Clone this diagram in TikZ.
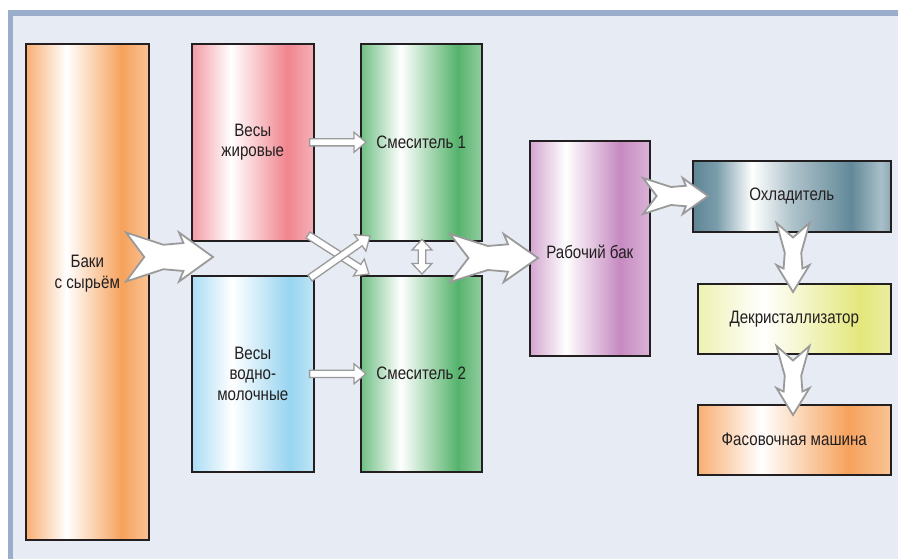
\documentclass[tikz,border=0pt]{standalone}
\usepackage{fontspec}
\setmainfont{Liberation Sans}[FakeStretch=0.84]
\usetikzlibrary{shadows}

\definecolor{bgc}{HTML}{E7EBF4}
\definecolor{frm}{HTML}{9AADCB}
\definecolor{bline}{HTML}{231F20}
\definecolor{txt}{HTML}{231F20}
\definecolor{agrey}{HTML}{9A9A9A}
% orange
\definecolor{oL}{HTML}{F8AE72}\definecolor{oD}{HTML}{F6A25C}\definecolor{oR}{HTML}{F9C395}
% pink
\definecolor{pL}{HTML}{F29AA4}\definecolor{pD}{HTML}{F0858F}\definecolor{pR}{HTML}{F5B0B7}
% blue
\definecolor{bL}{HTML}{A9DCF4}\definecolor{bD}{HTML}{98D4F0}\definecolor{bR}{HTML}{BEE5F7}
% green
\definecolor{gL}{HTML}{6FBF84}\definecolor{gD}{HTML}{55B36C}\definecolor{gR}{HTML}{92CDA0}
% purple
\definecolor{vL}{HTML}{D3A5CF}\definecolor{vD}{HTML}{C68AC1}\definecolor{vR}{HTML}{DAB3D6}
% teal
\definecolor{tL}{HTML}{5E8595}\definecolor{tA}{HTML}{7A9DAB}\definecolor{tM}{HTML}{AFC3CB}\definecolor{tD}{HTML}{628999}\definecolor{tB}{HTML}{A9BFC8}\definecolor{tR}{HTML}{8EA9B4}
% yellow
\definecolor{yL}{HTML}{EEF1B2}\definecolor{yD}{HTML}{E3E77B}\definecolor{yR}{HTML}{EBEDA0}

\pgfdeclarehorizontalshading{shOrange}{100bp}{color(0bp)=(oL); color(25bp)=(oL); color(41.5bp)=(white); color(64bp)=(oD); color(75bp)=(oR); color(100bp)=(oR)}
\pgfdeclarehorizontalshading{shPink}{100bp}{color(0bp)=(pL); color(25bp)=(pL); color(41bp)=(white); color(64bp)=(pD); color(75bp)=(pR); color(100bp)=(pR)}
\pgfdeclarehorizontalshading{shBlue}{100bp}{color(0bp)=(bL); color(25bp)=(bL); color(41.5bp)=(white); color(65bp)=(bD); color(75bp)=(bR); color(100bp)=(bR)}
\pgfdeclarehorizontalshading{shGreen}{100bp}{color(0bp)=(gL); color(25bp)=(gL); color(41.5bp)=(white); color(65bp)=(gD); color(75bp)=(gR); color(100bp)=(gR)}
\pgfdeclarehorizontalshading{shViolet}{100bp}{color(0bp)=(vL); color(25bp)=(vL); color(40bp)=(white); color(62.5bp)=(vD); color(75bp)=(vR); color(100bp)=(vR)}
\pgfdeclarehorizontalshading{shTeal}{100bp}{color(0bp)=(tL); color(25bp)=(tL); color(31bp)=(tA); color(40bp)=(white); color(50bp)=(tM); color(65bp)=(tD); color(72.5bp)=(tB); color(75bp)=(tR); color(100bp)=(tR)}
\pgfdeclarehorizontalshading{shYellow}{100bp}{color(0bp)=(yL); color(25bp)=(yL); color(42bp)=(white); color(67bp)=(yD); color(75bp)=(yR); color(100bp)=(yR)}

% hollow (outlined) arrow between two points
\newcommand\hollowarrow[2]{%
  \path #1; \pgfgetlastxy\hax\hay
  \path #2; \pgfgetlastxy\hbx\hby
  \pgfmathsetmacro\hang{atan2(\hby-\hay,\hbx-\hax)}%
  \pgfmathsetmacro\hlen{veclen(\hbx-\hax,\hby-\hay)}%
  \pgfmathsetmacro\hb{\hlen-12}%
  \begin{scope}[shift={(\hax,\hay)}, rotate=\hang]
    \draw[hollow] (0pt,3.6pt) -- (\hb pt,3.6pt) -- (\hb pt,10pt) -- (\hlen pt,0pt)
      -- (\hb pt,-10pt) -- (\hb pt,-3.6pt) -- (0pt,-3.6pt) -- cycle;
  \end{scope}}
% hollow double-headed arrow
\newcommand\hollowdouble[2]{%
  \path #1; \pgfgetlastxy\hax\hay
  \path #2; \pgfgetlastxy\hbx\hby
  \pgfmathsetmacro\hang{atan2(\hby-\hay,\hbx-\hax)}%
  \pgfmathsetmacro\hlen{veclen(\hbx-\hax,\hby-\hay)}%
  \pgfmathsetmacro\hb{\hlen-10.5}%
  \begin{scope}[shift={(\hax,\hay)}, rotate=\hang]
    \draw[hollow] (0pt,0pt) -- (10.5pt,10pt) -- (10.5pt,3.8pt) -- (\hb pt,3.8pt) -- (\hb pt,10pt)
      -- (\hlen pt,0pt) -- (\hb pt,-10pt) -- (\hb pt,-3.8pt) -- (10.5pt,-3.8pt) -- (10.5pt,-10pt) -- cycle;
  \end{scope}}
% big fletched arrow: tail, tip, half height
\newcommand\fletcharrow[3]{%
  \path #1; \pgfgetlastxy\fax\fay
  \path #2; \pgfgetlastxy\fbx\fby
  \pgfmathsetmacro\fang{atan2(\fby-\fay,\fbx-\fax)}%
  \pgfmathsetmacro\flen{veclen(\fbx-\fax,\fby-\fay)}%
  \begin{scope}[shift={(\fax,\fay)}, rotate=\fang, x={(\flen pt,0pt)}, y={(0pt,#3pt)}]
    \draw[fletch] (0,1) -- (0.43,0.5) -- (0.66,0.57) -- (0.61,1) -- (1,0) -- (0.61,-1)
      -- (0.66,-0.57) -- (0.43,-0.5) -- (0,-1) -- (0.21,0) -- cycle;
  \end{scope}}

\begin{document}
\begin{tikzpicture}[x=1pt,y=-1pt,
  box/.style={draw=bline, line width=1.6pt, shade, anchor=north west, inner sep=0pt,
    text=txt, align=center, font=\fontsize{18}{20.5}\selectfont,
    drop shadow={shadow xshift=1.3pt, shadow yshift=-1.3pt, opacity=0.35, fill=black}},
  lbl/.style={text=txt, align=center, font=\fontsize{18}{20.5}\selectfont, inner sep=0pt},
  hollow/.style={fill=white, draw=agrey, line width=1.3pt, line join=miter},
  fletch/.style={fill=white, draw=agrey, line width=1.8pt, line join=miter, miter limit=6}]
\useasboundingbox (0,0) rectangle (898,559);
\fill[white] (0,0) rectangle (898,559);
\fill[bgc] (8,10) rectangle (898,559);
\fill[frm] (8,10) rectangle (13,559);
\fill[frm] (8,10) rectangle (898,16);

% boxes
\node[box, shading=shOrange, minimum width=123pt, minimum height=496pt] (baki) at (25,43) {};
\node[lbl] (bakiT) at ([yshift=18pt]baki.center) {Баки\\с сырьём};
\node[box, shading=shPink, minimum width=122pt, minimum height=197pt] (wj) at (191,43) {Весы\\жировые};
\node[box, shading=shBlue, minimum width=122pt, minimum height=196pt] (wm) at (191,275) {Весы\\водно-\\молочные};
\node[box, shading=shGreen, minimum width=121pt, minimum height=197pt] (s1) at (360,43) {Смеситель 1};
\node[box, shading=shGreen, minimum width=121pt, minimum height=196pt] (s2) at (360,275) {Смеситель 2};
\node[box, shading=shViolet, minimum width=120pt, minimum height=215pt] (rb) at (529,140) {};
\node[lbl] (rbT) at ([yshift=-4pt]rb.center) {Рабочий бак};
\node[box, shading=shTeal, minimum width=198pt, minimum height=71pt] (oh) at (692,160) {Охладитель};
\node[box, shading=shYellow, minimum width=193pt, minimum height=70pt] (dk) at (697,283) {Декристаллизатор};
\node[box, shading=shOrange, minimum width=193pt, minimum height=70pt] (fm) at (697,404) {Фасовочная машина};

% connector end points
\coordinate (a1t) at (126,257);  \coordinate (a1h) at (213,257);
\coordinate (a2t) at (450,258);  \coordinate (a2h) at (538,258);
\coordinate (a3t) at (643,196);  \coordinate (a3h) at (708,196);
\coordinate (a4t) at (793,223);  \coordinate (a4h) at (793,292);
\coordinate (a5t) at (793,346);  \coordinate (a5h) at (793,415);
\coordinate (c1t) at (308,235);  \coordinate (c1h) at (369,274);
\coordinate (c2t) at (310,278);  \coordinate (c2h) at (370,236);
\coordinate (d1a) at (422,239.5); \coordinate (d1b) at (422,274);

% thin hollow arrows
\hollowarrow{([xshift=-5pt]wj.east)}{([xshift=6pt]s1.west)}
\hollowarrow{([xshift=-5pt]wm.east)}{([xshift=6pt]s2.west)}
\hollowarrow{(c1t)}{(c1h)}
\hollowarrow{(c2t)}{(c2h)}
\hollowdouble{(d1a)}{(d1b)}

% big arrows
\fletcharrow{(a1t)}{(a1h)}{24.5}
\fletcharrow{(a2t)}{(a2h)}{24}
\fletcharrow{(a3t)}{(a3h)}{18}
\fletcharrow{(a4t)}{(a4h)}{16.5}
\fletcharrow{(a5t)}{(a5h)}{16.5}
\end{tikzpicture}
\end{document}
